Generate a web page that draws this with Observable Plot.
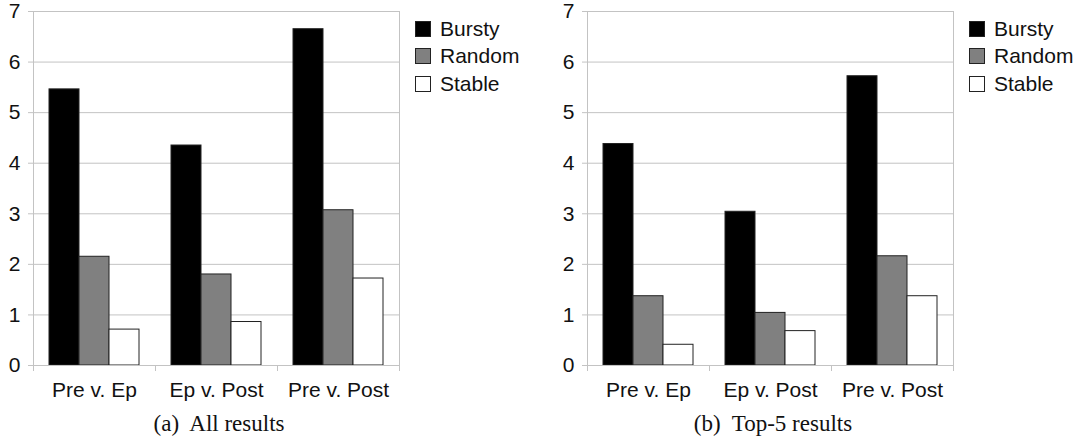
<!DOCTYPE html>
<html>
<head>
<meta charset="utf-8">
<script src="https://cdn.jsdelivr.net/npm/d3@7"></script>
<script src="https://cdn.jsdelivr.net/npm/@observablehq/plot@0.6"></script>
<style>
  html, body { margin: 0; padding: 0; background: white; }
  #root { position: relative; width: 1079px; height: 444px; overflow: hidden; background: white; }
  .panel { position: absolute; top: 0; }
  .legend { position: absolute; font-family: "Liberation Sans", Arial, sans-serif; font-size: 21px; color: #111; }
  .legend .row { display: flex; align-items: center; height: 27.5px; }
  .legend .sw { width: 14px; height: 14px; border: 1px solid #222; margin-right: 9px; box-sizing: content-box; }
  .caption { position: absolute; font-family: "Liberation Serif", "Times New Roman", serif; font-size: 23px; color: #111; transform: translateX(-50%); white-space: pre; }
</style>
</head>
<body>
<div id="root"></div>
<script>
// ---- data ----
const categories = ["Pre v. Ep", "Ep v. Post", "Pre v. Post"];
const series = ["Bursty", "Random", "Stable"];
const seriesColors = ["#000000", "#808080", "#ffffff"];
const yTicks = [0, 1, 2, 3, 4, 5, 6, 7];

// (a) All results
const allBursty = [5.46, 4.35, 6.65];
const allRandom = [2.15, 1.80, 3.07];
const allStable = [0.71, 0.86, 1.72];

// (b) Top-5 results
const topBursty = [4.38, 3.04, 5.72];
const topRandom = [1.37, 1.04, 2.16];
const topStable = [0.41, 0.68, 1.37];

const panels = [
  { left: 0, caption: "(a)  All results", values: [allBursty, allRandom, allStable] },
  { left: 554, caption: "(b)  Top-5 results", values: [topBursty, topRandom, topStable] }
];

const root = document.getElementById("root");
const W = 525, H = 405, ML = 32, MR = W - ML - 367, MT = 11, MB = 40;
const gridColor = "#c3c3c3";

panels.forEach(p => {
  const data = [];
  categories.forEach((c, i) => series.forEach((s, j) => data.push({ category: c, series: s, value: p.values[j][i] })));

  const chart = Plot.plot({
    width: W, height: H,
    marginLeft: ML, marginRight: MR, marginTop: MT, marginBottom: MB,
    style: { fontFamily: "Liberation Sans, Arial, sans-serif", fontSize: "21px", background: "white", color: "#111", overflow: "visible" },
    fx: { domain: categories, padding: 0, label: null },
    x: { domain: series, paddingInner: 0, paddingOuter: 0.49, axis: null },
    y: { domain: [0, 7], label: null },
    color: { domain: series, range: seriesColors },
    marks: [
      Plot.ruleY(yTicks, { stroke: gridColor, strokeWidth: 1 }),
      Plot.barY(data, { fx: "category", x: "series", y: "value", fill: "series", stroke: "#222", strokeWidth: 1 }),
      Plot.axisY({ ticks: yTicks, tickSize: 5, tickPadding: 8, stroke: gridColor, strokeOpacity: 1, fill: "#111", label: null, tickFormat: d => String(d) }),
      Plot.axisFx({ anchor: "bottom", tickSize: 0, tickPadding: 17, label: null, fill: "#111" })
    ]
  });

  // frame lines and category separators computed from Plot's scales
  const fx = chart.scale("fx");
  const y = chart.scale("y");
  const bw = fx.bandwidth;
  const x0 = fx.apply(categories[0]);
  const x1 = fx.apply(categories[categories.length - 1]) + bw;
  const y0 = y.apply(0), y7 = y.apply(7);
  const svg = d3.select(chart.tagName.toLowerCase() === "svg" ? chart : chart.querySelector("svg"));
  const g = svg.append("g").attr("stroke", gridColor).attr("stroke-width", 1).attr("shape-rendering", "crispEdges");
  g.append("line").attr("x1", x0).attr("x2", x0).attr("y1", y7).attr("y2", y0 + 6);
  g.append("line").attr("x1", x1).attr("x2", x1).attr("y1", y7).attr("y2", y0 + 6);
  g.append("line").attr("x1", x0).attr("x2", x1).attr("y1", y0).attr("y2", y0);
  categories.slice(1).forEach(c => {
    const xs = fx.apply(c);
    g.append("line").attr("x1", xs).attr("x2", xs).attr("y1", y0).attr("y2", y0 + 6);
  });

  const panel = document.createElement("div");
  panel.className = "panel";
  panel.style.left = p.left + "px";
  panel.appendChild(chart);
  root.appendChild(panel);

  // legend
  const legend = document.createElement("div");
  legend.className = "legend";
  legend.style.left = (p.left + x1 + 16) + "px";
  legend.style.top = "15px";
  series.forEach((s, j) => {
    const row = document.createElement("div");
    row.className = "row";
    const sw = document.createElement("div");
    sw.className = "sw";
    sw.style.background = seriesColors[j];
    const t = document.createElement("span");
    t.textContent = s;
    row.appendChild(sw); row.appendChild(t);
    legend.appendChild(row);
  });
  root.appendChild(legend);

  // caption
  const cap = document.createElement("div");
  cap.className = "caption";
  cap.textContent = p.caption;
  cap.style.left = (p.left + (x0 + x1) / 2 + 3) + "px";
  cap.style.top = "411px";
  root.appendChild(cap);
});
</script>
</body>
</html>
